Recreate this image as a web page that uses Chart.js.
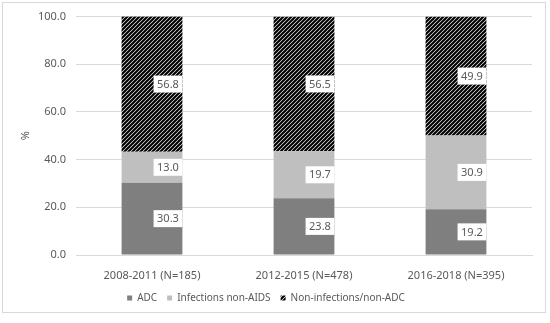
<!DOCTYPE html>
<html>
<head>
<meta charset="utf-8">
<script src="https://cdn.jsdelivr.net/npm/chart.js@4"></script>
<style>
  html, body { margin: 0; padding: 0; background: #fff; }
  #wrap { width: 550px; height: 323px; position: relative; }
</style>
</head>
<body>
<div id="wrap"><canvas id="chart" width="550" height="323"></canvas></div>
<script>
const periods = ['2008-2011 (N=185)', '2012-2015 (N=478)', '2016-2018 (N=395)'];
const adc = [30.3, 23.8, 19.2];
const infections = [13.0, 19.7, 30.9];
const nonInfections = [56.8, 56.5, 49.9];
const yTicks = [0, 20, 40, 60, 80, 100];

const FONT = '"Noto Sans", sans-serif';
const TXT = '#595959';

// hatch pattern for the third series
function hatch() {
  const c = document.createElement('canvas');
  c.width = c.height = 4;
  const p = c.getContext('2d');
  p.fillStyle = '#fff';
  p.fillRect(0, 0, 4, 4);
  p.strokeStyle = '#000';
  p.lineWidth = 2.2;
  p.beginPath();
  p.moveTo(-1, 5); p.lineTo(5, -1);
  p.moveTo(3, 5); p.lineTo(5, 3);
  p.moveTo(-1, 1); p.lineTo(1, -1);
  p.stroke();
  return p.createPattern(c, 'repeat');
}

const frame = {
  id: 'frame',
  beforeDraw(chart) {
    const ctx = chart.ctx;
    ctx.save();
    ctx.fillStyle = '#fff';
    ctx.fillRect(0, 0, chart.width, chart.height);
    ctx.strokeStyle = '#d9d9d9';
    ctx.lineWidth = 1;
    ctx.strokeRect(2.5, 2.5, 543, 310);
    ctx.restore();
  }
};

const boxLabels = {
  id: 'boxLabels',
  afterDatasetsDraw(chart) {
    const ctx = chart.ctx;
    ctx.save();
    ctx.font = '11px ' + FONT;
    ctx.textAlign = 'center';
    ctx.textBaseline = 'middle';
    chart.data.datasets.forEach((ds, i) => {
      chart.getDatasetMeta(i).data.forEach((bar, j) => {
        const { x, y, base, width } = bar.getProps(['x', 'y', 'base', 'width'], true);
        const txt = ds.data[j].toFixed(1);
        const w = ctx.measureText(txt).width + 7;
        const h = 17;
        const right = x + width / 2;
        const cy = (y + base) / 2;
        ctx.fillStyle = '#fff';
        ctx.fillRect(right - w, cy - h / 2, w, h);
        ctx.fillStyle = TXT;
        ctx.fillText(txt, right - w / 2, cy + 0.5);
      });
    });
    ctx.restore();
  }
};

const ctx = document.getElementById('chart').getContext('2d');
new Chart(ctx, {
  type: 'bar',
  data: {
    labels: periods,
    datasets: [
      { label: 'ADC', data: adc, backgroundColor: '#7f7f7f' },
      { label: 'Infections non-AIDS', data: infections, backgroundColor: '#bfbfbf' },
      { label: 'Non-infections/non-ADC', data: nonInfections, backgroundColor: hatch() }
    ]
  },
  options: {
    responsive: false,
    animation: false,
    layout: { padding: { top: 14, right: 18, bottom: 10, left: 0 } },
    datasets: { bar: { barPercentage: 0.4, categoryPercentage: 1 } },
    scales: {
      x: {
        stacked: true,
        afterFit: s => { s.height = 28; },
        grid: { display: false },
        border: { color: '#d9d9d9' },
        ticks: { color: TXT, font: { family: FONT, size: 11 }, padding: 6 }
      },
      y: {
        stacked: true,
        min: 0,
        max: 100,
        afterBuildTicks: s => { s.ticks = yTicks.map(v => ({ value: v })); },
        afterFit: s => { s.width = 76; },
        grid: { color: '#d9d9d9', drawTicks: false },
        border: { display: false },
        ticks: { color: TXT, font: { family: FONT, size: 11 }, padding: 10, callback: v => v.toFixed(1) },
        title: { display: true, text: '%', color: TXT, font: { family: FONT, size: 11 }, padding: { top: 19, bottom: 0 } }
      }
    },
    plugins: {
      legend: {
        position: 'bottom',
        labels: { color: TXT, font: { family: FONT, size: 10 }, boxWidth: 5, boxHeight: 5, padding: 10 }
      },
      tooltip: { enabled: false }
    }
  },
  plugins: [frame, boxLabels]
});
</script>
</body>
</html>
